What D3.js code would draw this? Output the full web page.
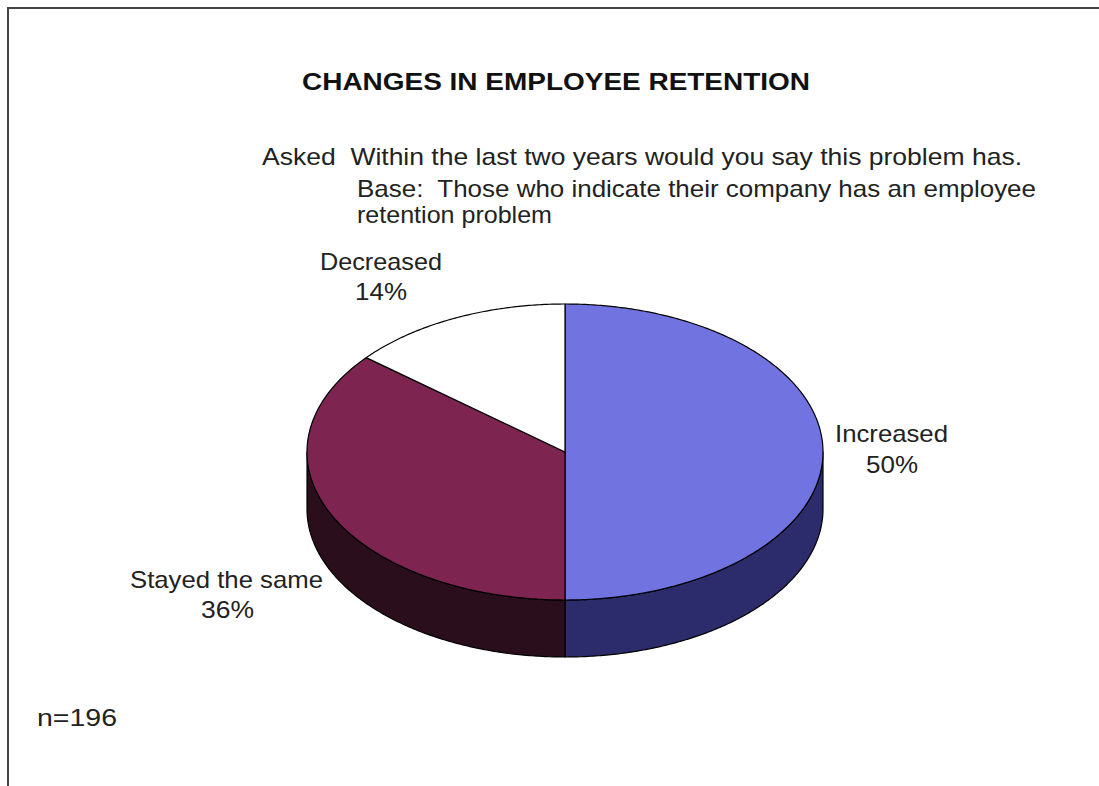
<!DOCTYPE html>
<html><head><meta charset="utf-8">
<script src="https://cdn.jsdelivr.net/npm/d3@7"></script>
<style>html,body{margin:0;padding:0;background:#fff;}svg{display:block;}text{white-space:pre;}</style>
</head><body>
<svg id="c" width="1099" height="786"></svg>
<script>
const categories = ["Increased", "Stayed the same", "Decreased"];
const values = [50, 36, 14];
const valueLabels = ["50%", "36%", "14%"];
const topColors = ["#7073e0", "#7e2450", "#ffffff"];
const sideColors = ["#2c2b6c", "#2a0e1c", "#d8d8c8"];
const titleText = "CHANGES IN EMPLOYEE RETENTION";
const subtitleLines = [
  "Asked  Within the last two years would you say this problem has.",
  "Base:  Those who indicate their company has an employee",
  "retention problem"
];
const noteText = "n=196";

const svg = d3.select("#c");
const font = "'Liberation Sans', Arial, sans-serif";
const fs = 24;

// frame
svg.append("path").attr("d", "M8,786 L8,8 L1099,8").attr("fill", "none")
  .attr("stroke", "#444").attr("stroke-width", 2);

// title
svg.append("text").attr("x", 302).attr("y", 90).attr("font-family", font)
  .attr("font-weight", "bold").attr("font-size", 23).attr("fill", "#111")
  .attr("textLength", 508).attr("lengthAdjust", "spacingAndGlyphs").text(titleText);

// subtitle
const subPos = [[262, 165, 760], [357, 197, 679], [357, 223, 195]];
subtitleLines.forEach((t, i) => {
  svg.append("text").attr("x", subPos[i][0]).attr("y", subPos[i][1])
    .attr("font-family", font).attr("font-size", fs).attr("fill", "#222")
    .attr("textLength", subPos[i][2]).attr("lengthAdjust", "spacingAndGlyphs").text(t);
});

// 3D pie
const cx = 565, cy = 452, rx = 258, ry = 148, depth = 57;
const pie = d3.pie().sort(null).value(d => d)(values);
const pt = (a, dy = 0) => [cx + rx * Math.sin(a), cy - ry * Math.cos(a) + dy];
const arcPts = (a0, a1, dy = 0) => {
  const n = Math.max(2, Math.ceil((a1 - a0) / 0.01));
  return d3.range(n + 1).map(i => pt(a0 + (a1 - a0) * i / n, dy));
};
const line = d3.line().curve(d3.curveLinear);

const gSide = svg.append("g");
pie.forEach((p, i) => {
  const a0 = Math.max(p.startAngle, Math.PI / 2), a1 = Math.min(p.endAngle, 3 * Math.PI / 2);
  if (a1 <= a0) return;
  const pts = arcPts(a0, a1).concat(arcPts(a0, a1, depth).reverse());
  gSide.append("path").attr("d", line(pts) + "Z").attr("fill", sideColors[i])
    .attr("stroke", "#000").attr("stroke-width", 1.2).attr("stroke-linejoin", "round");
});

const gTop = svg.append("g");
pie.forEach((p, i) => {
  const pts = [[cx, cy]].concat(arcPts(p.startAngle, p.endAngle));
  gTop.append("path").attr("d", line(pts) + "Z").attr("fill", topColors[i])
    .attr("stroke", "#000").attr("stroke-width", 1.2).attr("stroke-linejoin", "round");
});

// slice labels
const labelPos = [
  [[835, 442, 113], [866, 473, 52]],
  [[130, 588, 193], [201, 618, 53]],
  [[320, 270, 122], [355, 300, 52]]
];
pie.forEach((p, i) => {
  const [l1, l2] = labelPos[i];
  svg.append("text").attr("x", l1[0]).attr("y", l1[1]).attr("font-family", font)
    .attr("font-size", fs).attr("fill", "#222").attr("textLength", l1[2])
    .attr("lengthAdjust", "spacingAndGlyphs").text(categories[i]);
  svg.append("text").attr("x", l2[0]).attr("y", l2[1]).attr("font-family", font)
    .attr("font-size", fs).attr("fill", "#222").attr("textLength", l2[2])
    .attr("lengthAdjust", "spacingAndGlyphs").text(valueLabels[i]);
});

svg.append("text").attr("x", 37).attr("y", 726).attr("font-family", font)
  .attr("font-size", fs).attr("fill", "#222").attr("textLength", 80)
  .attr("lengthAdjust", "spacingAndGlyphs").text(noteText);
</script>
</body></html>
